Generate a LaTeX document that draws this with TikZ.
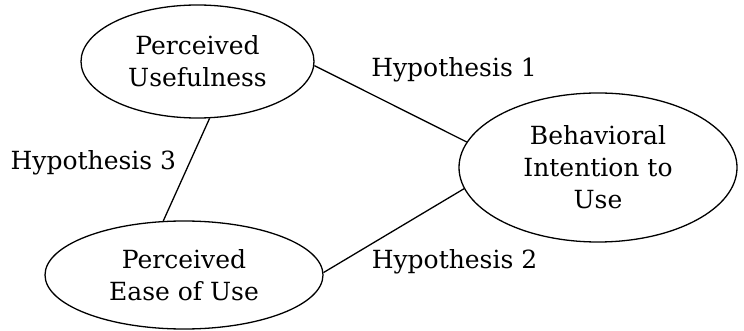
\documentclass[tikz,border=0pt]{standalone}
\usepackage{fontspec}
\setmainfont{DejaVu Serif}
\usetikzlibrary{shapes.geometric}
\begin{document}
\begin{tikzpicture}[x=1pt,y=-1pt,
  ell/.style={draw,ellipse,line width=1.3pt,inner sep=0pt,align=center,font=\fontsize{25}{32}\selectfont},
  hyp/.style={font=\fontsize{25}{32}\selectfont,anchor=base,inner sep=0pt},
  link/.style={line width=1.3pt}]
\useasboundingbox (0,0) rectangle (744,331);
\node[ell,minimum width=233pt,minimum height=113pt] (pu) at (197.5,61.5) {Perceived\\Usefulness};
\node[ell,minimum width=278pt,minimum height=149pt] (bi) at (598,167.5) {Behavioral\\Intention to\\Use};
\node[ell,minimum width=278pt,minimum height=108pt] (pe) at (184,275) {Perceived\\Ease of Use};
\draw[link] (pu.-2) -- (bi.169);
\draw[link] (pe.1) -- (bi.189);
\draw[link] (pu.-78) -- (pe.111);
\node[hyp] (h1) at (454,77) {Hypothesis 1};
\node[hyp] (h2) at (454.5,268) {Hypothesis 2};
\node[hyp] (h3) at (93.4,170) {Hypothesis 3};
\end{tikzpicture}
\end{document}
